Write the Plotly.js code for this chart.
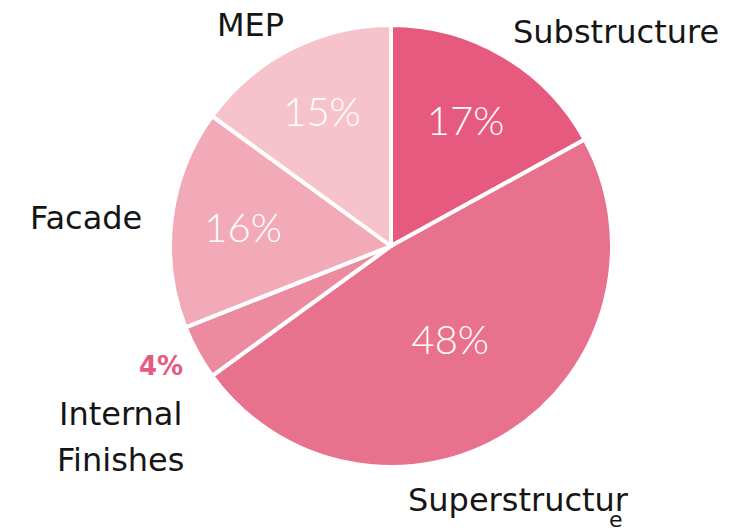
<!DOCTYPE html>
<html><head><meta charset="utf-8">
<script src="https://cdn.plot.ly/plotly-3.0.1.min.js"></script>
<style>html,body{margin:0;padding:0;background:#fff}#chart{width:732px;height:532px}</style>
</head><body><div id="chart"></div>
<script>
const categories = ["Substructure", "Superstructure", "Internal Finishes", "Facade", "MEP"];
const values = [17, 48, 4, 16, 15];
const sliceColors = ["#e65a7f", "#e8718e", "#ec8ba0", "#f2aab8", "#f6c3cc"];
const outsideNames = ["Substructure", "Superstructur", "Internal", "Finishes", "Facade", "MEP"];

const LABEL_FONT = "'DejaVu Sans', Lato, sans-serif";
const PCT_FONT = "Lato, 'Open Sans', sans-serif";
const total = values.reduce((a,b)=>a+b,0);
const pctText = values.map(v => Math.round(v/total*100) + "%");
const textPos = values.map(v => v/total < 0.05 ? "none" : "inside");

// label placements (paper coords)
const namePos = [
  {x: 0.841, y: 0.940},
  {x: 0.708, y: 0.060},
  {x: 0.165, y: 0.222},
  {x: 0.165, y: 0.136},
  {x: 0.118, y: 0.590},
  {x: 0.342, y: 0.953}
];

const annotations = outsideNames.map((t, i) => ({
  text: t, xref: "paper", yref: "paper", x: namePos[i].x, y: namePos[i].y,
  xanchor: "center", yanchor: "middle", showarrow: false,
  font: {family: LABEL_FONT, size: 32, color: "#151515"}
}));
annotations.push({text: "e", xref: "paper", yref: "paper", x: 0.842, y: 0.024,
  xanchor: "center", yanchor: "middle", showarrow: false,
  font: {family: LABEL_FONT, size: 22, color: "#151515"}});
values.forEach((v, i) => {
  if (textPos[i] === "none") {
    annotations.push({text: "<b>" + pctText[i] + "</b>", xref: "paper", yref: "paper",
      x: 0.220, y: 0.312, xanchor: "center", yanchor: "middle", showarrow: false,
      font: {family: LABEL_FONT, size: 26, color: sliceColors[0]}});
  }
});

const trace = {
  type: "pie",
  labels: categories,
  values: values,
  sort: false,
  direction: "clockwise",
  rotation: 0,
  text: pctText,
  textinfo: "text",
  textposition: textPos,
  insidetextorientation: "horizontal",
  insidetextfont: {family: PCT_FONT, size: 40, color: "#ffffff", weight: 300},
  marker: {colors: sliceColors, line: {color: "#ffffff", width: 4}},
  domain: {x: [0.2322, 0.8361], y: [0.1222, 0.953]},
  hoverinfo: "none",
  showlegend: false
};

Plotly.newPlot("chart", [trace], {
  width: 732, height: 532,
  margin: {l: 0, r: 0, t: 0, b: 0},
  paper_bgcolor: "#ffffff",
  showlegend: false,
  annotations: annotations
}, {displayModeBar: false, staticPlot: true});
</script></body></html>
